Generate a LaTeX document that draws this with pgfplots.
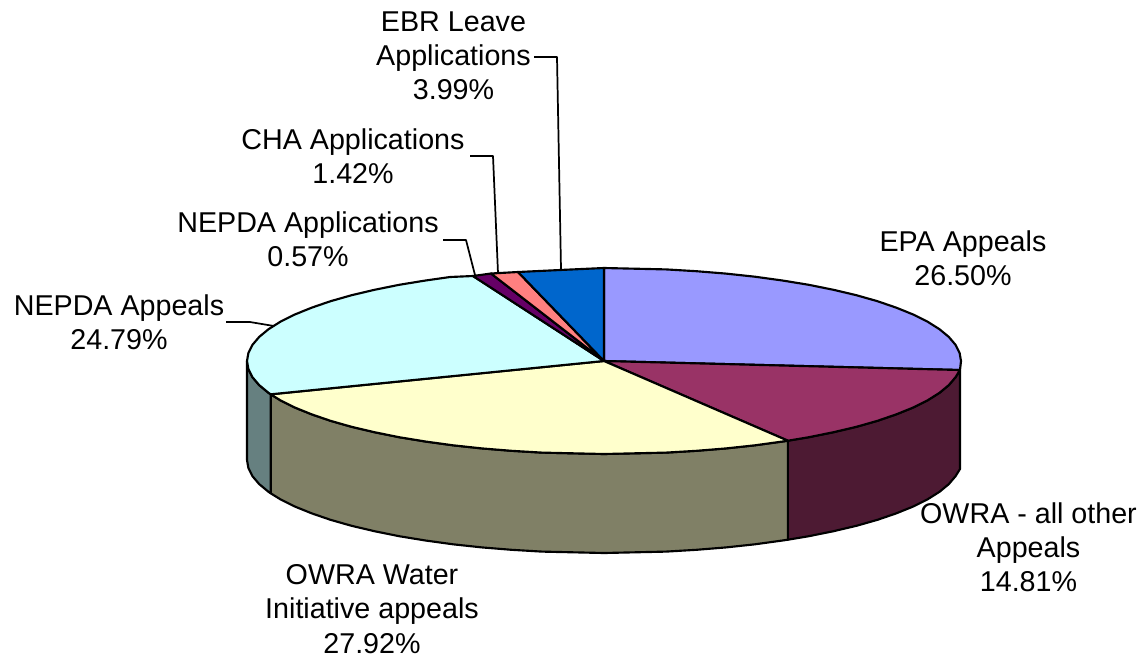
\documentclass[border=0pt]{standalone}
\usepackage{pgfplots}
\pgfplotsset{compat=1.18}
\usepackage{fontspec}
\setmainfont{Liberation Sans}
\definecolor{cEPA}{HTML}{9999FF}
\definecolor{cOWRA}{HTML}{993366}
\definecolor{cWAT}{HTML}{FFFFCC}
\definecolor{cNEP}{HTML}{CCFFFF}
\definecolor{cAPP}{HTML}{660066}
\definecolor{cCHA}{HTML}{FF8080}
\definecolor{cEBR}{HTML}{0066CC}
\definecolor{sOWRA}{HTML}{4D1A33}
\definecolor{sWAT}{HTML}{808066}
\definecolor{sNEP}{HTML}{668080}
\tikzset{lab/.style={font=\fontsize{21.5}{25.6}\selectfont,align=center,anchor=center,inner sep=0pt}}
\begin{document}
\begin{tikzpicture}
\begin{axis}[
  width=857.25pt,height=496.5pt,scale only axis,
  xmin=0,xmax=1143,ymin=0,ymax=662,y dir=reverse,
  axis lines=none,clip=false,
  every axis plot/.append style={line width=1.6pt,line join=round},
]
% invisible frame keeps the page at the reference size
\addplot[draw=none] coordinates {(0,0) (1143,0) (1143,662) (0,662) (0,0)};
% side walls
\addplot[fill=sOWRA,draw=black] coordinates {(960,370) (955.6,377.1) (948.8,385.1) (939.5,392.8) (927.6,400.3) (913.2,407.5) (896.4,414.3) (877.5,420.8) (856.4,426.8) (833.5,432.2) (808.8,437.2) (787.9,440.7) (787.9,539.7) (808.8,536.2) (833.5,531.2) (856.4,525.8) (877.5,519.8) (896.4,513.3) (913.2,506.5) (927.6,499.3) (939.5,491.8) (948.8,484.1) (955.6,476.1) (960,469) (960,370)};
\addplot[fill=sWAT,draw=black] coordinates {(787.9,440.7) (782.5,441.5) (754.9,445.3) (726.1,448.4) (696.4,450.8) (666,452.6) (604,454) (542,452.6) (511.6,450.8) (481.9,448.4) (453.1,445.3) (425.5,441.5) (399.2,437.2) (374.5,432.2) (351.6,426.8) (330.5,420.8) (311.6,414.3) (294.8,407.5) (280.4,400.3) (270.7,394.3) (270.7,493.3) (280.4,499.3) (294.8,506.5) (311.6,513.3) (330.5,519.8) (351.6,525.8) (374.5,531.2) (399.2,536.2) (425.5,540.5) (453.1,544.3) (481.9,547.4) (511.6,549.8) (542,551.6) (604,553) (666,551.6) (696.4,549.8) (726.1,547.4) (754.9,544.3) (782.5,540.5) (787.9,539.7) (787.9,440.7)};
\addplot[fill=sNEP,draw=black] coordinates {(270.7,394.3) (268.5,392.8) (259.2,385.1) (252.4,377.1) (248.4,369.1) (247,361) (247,460) (248.4,468.1) (252.4,476.1) (259.2,484.1) (268.5,491.8) (270.7,493.3) (270.7,394.3)};
% top faces
\addplot[fill=cEPA,draw=black] coordinates {(604,361) (604,268) (666,269.4) (696.4,271.2) (726.1,273.6) (754.9,276.7) (782.5,280.5) (808.8,284.8) (833.5,289.8) (856.4,295.2) (877.5,301.2) (896.4,307.7) (913.2,314.5) (927.6,321.7) (939.5,329.2) (948.8,336.9) (955.6,344.9) (959.6,352.9) (961,361) (960,370) (604,361)};
\addplot[fill=cOWRA,draw=black] coordinates {(604,361) (960,370) (955.6,377.1) (948.8,385.1) (939.5,392.8) (927.6,400.3) (913.2,407.5) (896.4,414.3) (877.5,420.8) (856.4,426.8) (833.5,432.2) (808.8,437.2) (787.9,440.7) (604,361)};
\addplot[fill=cWAT,draw=black] coordinates {(604,361) (787.9,440.7) (782.5,441.5) (754.9,445.3) (726.1,448.4) (696.4,450.8) (666,452.6) (604,454) (542,452.6) (511.6,450.8) (481.9,448.4) (453.1,445.3) (425.5,441.5) (399.2,437.2) (374.5,432.2) (351.6,426.8) (330.5,420.8) (311.6,414.3) (294.8,407.5) (280.4,400.3) (270.7,394.3) (604,361)};
\addplot[fill=cNEP,draw=black] coordinates {(604,361) (270.7,394.3) (268.5,392.8) (259.2,385.1) (252.4,377.1) (248.4,369.1) (247,361) (248.4,352.9) (252.4,344.9) (259.2,336.9) (268.5,329.2) (280.4,321.7) (294.8,314.5) (311.6,307.7) (330.5,301.2) (351.6,295.2) (374.5,289.8) (399.2,284.8) (425.5,280.5) (450,277) (473,276) (604,361)};
\addplot[fill=cAPP,draw=black] coordinates {(604,361) (473,276) (491,273.5) (604,361)};
\addplot[fill=cCHA,draw=black] coordinates {(604,361) (491,273.5) (518,272) (604,361)};
\addplot[fill=cEBR,draw=black] coordinates {(604,361) (518,272) (560,270) (604,268) (604,361)};
% leader lines
\addplot[draw=black,line width=1.3pt] coordinates {(534,57) (557,57) (561,269)};
\addplot[draw=black,line width=1.3pt] coordinates {(470,156) (493,156) (498,273)};
\addplot[draw=black,line width=1.3pt] coordinates {(443,240) (466,240) (475,275)};
\addplot[draw=black,line width=1.3pt] coordinates {(226,322) (250,322) (274,326)};
% labels
\node[lab] at (axis cs:453.5,56) {EBR Leave\\Applications\\3.99\%};
\node[lab] at (axis cs:353,156) {CHA Applications\\1.42\%};
\node[lab] at (axis cs:308,239) {NEPDA Applications\\0.57\%};
\node[lab] at (axis cs:119,322) {NEPDA Appeals\\24.79\%};
\node[lab] at (axis cs:963,258) {EPA Appeals\\26.50\%};
\node[lab] at (axis cs:1028.5,547) {OWRA - all other\\Appeals\\14.81\%};
\node[lab] at (axis cs:372,609) {OWRA Water\\Initiative appeals\\27.92\%};
\end{axis}
\end{tikzpicture}
\end{document}
